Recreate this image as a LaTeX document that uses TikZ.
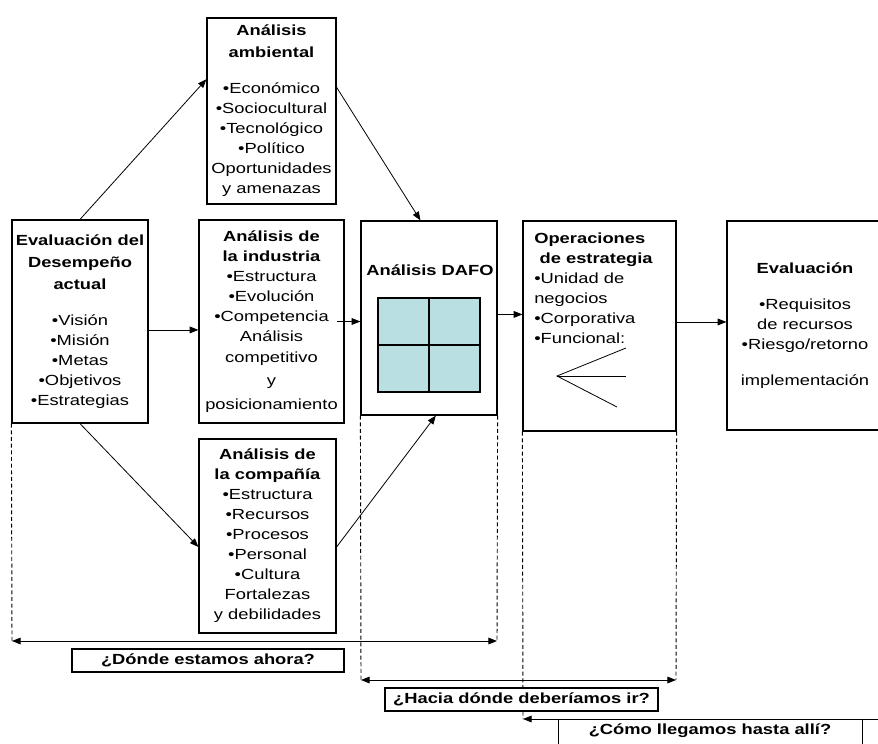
\documentclass[tikz,border=0pt]{standalone}
\usepackage{fontspec}
\setmainfont{Liberation Sans}[FakeStretch=1.25]
\usetikzlibrary{arrows.meta}
\definecolor{dafoCyan}{RGB}{185,223,227}

\begin{document}
\begin{tikzpicture}[x=0.75pt,y=0.75pt,yscale=-1,xscale=1,
  font=\fontsize{11}{15}\selectfont,
  panel/.style 2 args={draw, fill=white, line width=0.9pt, inner sep=0pt, align=center,
    minimum width=#1*0.75pt, minimum height=#2*0.75pt},
  arr/.style={-{Triangle[length=6.5pt,width=5pt]}, line width=0.6pt},
  dimarr/.style={{Triangle[length=6.5pt,width=5pt]}-{Triangle[length=6.5pt,width=5pt]}, line width=0.7pt},
  guide/.style={dash pattern=on 3pt off 2pt, line width=0.7pt}]
\useasboundingbox[fill=white] (0,0) rectangle (878,743);

%Shape: Rectangle
\node[panel={136}{203}] (desemp) at (80,321.5) {\textbf{Evaluación del}\\[1.5pt]\textbf{Desempeño}\\[1.5pt]\textbf{actual}\\[12pt]•Visión\\•Misión\\•Metas\\•Objetivos\\•Estrategias};
%Shape: Rectangle
\node[panel={129}{186}] (ambiental) at (271.5,111) {\textbf{Análisis}\\[1.5pt]\textbf{ambiental}\\[12pt]•Económico\\•Sociocultural\\•Tecnológico\\•Político\\Oportunidades\\y amenazas};
%Shape: Rectangle
\node[panel={145}{203}] (industria) at (271.5,321.5) {\textbf{Análisis de}\\\textbf{la industria}\\•Estructura\\•Evolución\\•Competencia\\Análisis\\[1pt]competitivo\\[2pt]y\\[3pt]posicionamiento};
%Shape: Rectangle
\node[panel={137}{194}] (compania) at (267.5,536) {\textbf{Análisis de}\\\textbf{la compañía}\\•Estructura\\•Recursos\\•Procesos\\•Personal\\•Cultura\\Fortalezas\\y debilidades};
%Shape: Rectangle
\node[panel={136}{194}] (dafo) at (429,318) {};
% Text Node
\node (dafotitle) at (430,270) {\textbf{Análisis DAFO}};
%Shape: Grid
\node[panel={102}{94}, fill=dafoCyan] (grid) at (429,345) {};
\draw[line width=0.9pt] (grid.north) -- (grid.south);
\draw[line width=0.9pt] (grid.west) -- (grid.east);
%Shape: Rectangle
\node[panel={153}{210}] (ops) at (599.5,326) {};
% Text Node
\node[anchor=north west, align=left, inner sep=0pt] (opstext) at (534,233) {\textbf{Operaciones}\\\hspace*{4pt}\textbf{de estrategia}\\•Unidad de\\negocios\\•Corporativa\\•Funcional:};
%Straight Lines
\coordinate (fork) at (557,376);
\draw[line width=0.6pt] (626,348) -- (fork) -- (617,407);
\draw[line width=0.6pt] (fork) -- (626,376);
%Shape: Rectangle
\node[panel={156}{209}] (evalua) at (805,325.5) {\textbf{Evaluación}\\[12pt]•Requisitos\\de recursos\\•Riesgo/retorno\\[12pt]implementación};

%Straight Lines
\draw[arr] (desemp.north) -- (ambiental.154);
\draw[arr] (ambiental.20) -- (dafo.95);
\draw[arr] (desemp.-7) -- (desemp.-7 -| industria.west);
\draw[arr] ([xshift=-6pt]industria.east) -- (industria.east -| dafo.west);
\draw[arr] (desemp.south) -- (compania.189);
\draw[arr] (compania.-9) -- (dafo.-86);
\draw[arr] (dafo.3) -- (dafo.3 -| ops.west);
\draw[arr] (ops.3) -- (ops.3 -| evalua.west);

%Dashed Lines
\coordinate (nowL) at (12,641);
\coordinate (nowR) at (497,641);
\coordinate (goL) at (361,680);
\coordinate (goR) at (676,680);
\coordinate (howL) at (523,719);
\coordinate (howR) at (882,719);
\draw[guide] (desemp.south west) -- (nowL);
\draw[guide] (dafo.south east) -- (nowR);
\draw[dimarr] (nowL) -- (nowR);
\draw[guide] (dafo.south west) -- (goL);
\draw[guide] (ops.south east) -- (goR);
\draw[dimarr] (goL) -- (goR);
\draw[guide] (ops.south west) -- (howL);
\draw[arr, line width=0.7pt] (howR) -- (howL);

% Text Node
\node[panel={272}{23}] (ahora) at (208,660.5) {\textbf{¿Dónde estamos ahora?}};
% Text Node
\node[panel={273}{23}] (hacia) at (521.5,699.5) {\textbf{¿Hacia dónde deberíamos ir?}};
%Shape: Rectangle
\node[panel={304}{50}, anchor=north west] (como) at (558,719) {};
% Text Node
\node[anchor=base] (comotext) at (710,734) {\textbf{¿Cómo llegamos hasta allí?}};

\end{tikzpicture}
\end{document}
